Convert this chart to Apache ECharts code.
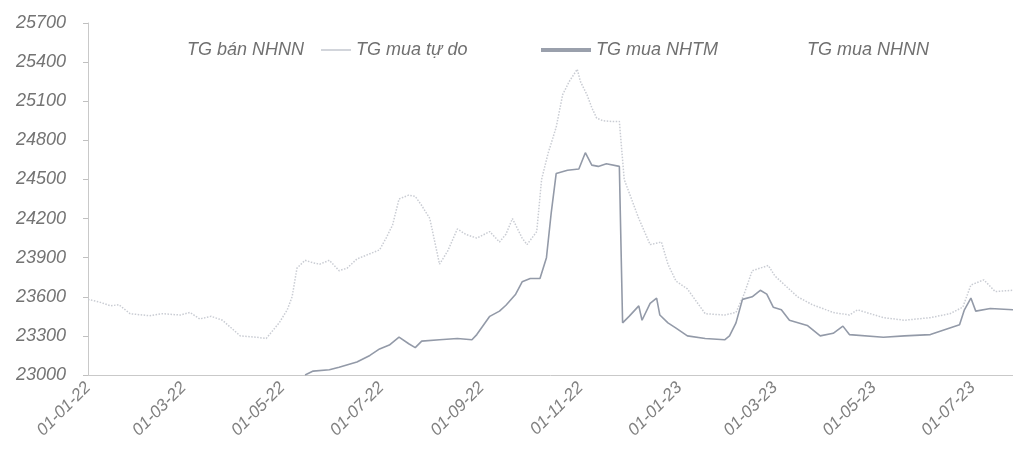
<!DOCTYPE html>
<html>
<head>
<meta charset="utf-8">
<script src="https://cdn.jsdelivr.net/npm/echarts@6/dist/echarts.min.js"></script>
<style>
html,body{margin:0;padding:0;background:#fff;}
#chart{width:1013px;height:471px;}
</style>
</head>
<body>
<div id="chart"></div>
<script>
// ---- Data ----
const seriesNames = ['TG bán NHNN', 'TG mua tự do', 'TG mua NHTM', 'TG mua NHNN'];

const yTicks = [23000, 23300, 23600, 23900, 24200, 24500, 24800, 25100, 25400, 25700];

const xTickDates = ['2022-01-01','2022-03-01','2022-05-01','2022-07-01','2022-09-01',
                    '2022-11-01','2023-01-01','2023-03-01','2023-05-01','2023-07-01'];

const xStart = '2022-01-01';
const xEnd = '2023-07-26';

// TG mua tự do (free market buying rate)
const freeMarket = [
  ['2022-01-01',23580],['2022-01-08',23560],['2022-01-15',23530],['2022-01-20',23540],
  ['2022-01-27',23470],['2022-02-08',23455],['2022-02-16',23470],['2022-02-27',23460],
  ['2022-03-05',23480],['2022-03-11',23430],['2022-03-18',23450],['2022-03-25',23420],
  ['2022-04-05',23300],['2022-04-15',23290],['2022-04-21',23280],['2022-04-29',23400],
  ['2022-05-04',23500],['2022-05-07',23600],['2022-05-10',23820],['2022-05-15',23880],
  ['2022-05-20',23860],['2022-05-24',23850],['2022-05-30',23880],['2022-06-05',23800],
  ['2022-06-10',23820],['2022-06-16',23890],['2022-06-24',23930],['2022-06-30',23960],
  ['2022-07-04',24050],['2022-07-08',24150],['2022-07-12',24350],['2022-07-18',24380],
  ['2022-07-22',24370],['2022-07-26',24300],['2022-07-31',24200],['2022-08-06',23850],
  ['2022-08-11',23950],['2022-08-17',24120],['2022-08-22',24080],['2022-08-29',24050],
  ['2022-09-06',24100],['2022-09-12',24020],['2022-09-16',24080],['2022-09-20',24200],
  ['2022-09-26',24050],['2022-09-29',24000],['2022-10-05',24100],['2022-10-08',24500],
  ['2022-10-12',24700],['2022-10-17',24900],['2022-10-21',25150],['2022-10-25',25250],
  ['2022-10-30',25345],['2022-11-01',25250],['2022-11-05',25150],['2022-11-08',25050],
  ['2022-11-11',24970],['2022-11-15',24950],['2022-11-20',24945],['2022-11-25',24945],
  ['2022-11-28',24500],['2022-12-01',24400],['2022-12-07',24200],['2022-12-14',24000],
  ['2022-12-21',24020],['2022-12-25',23850],['2022-12-30',23720],['2023-01-06',23660],
  ['2023-01-17',23470],['2023-01-29',23460],['2023-02-05',23480],['2023-02-10',23620],
  ['2023-02-15',23800],['2023-02-20',23820],['2023-02-25',23840],['2023-03-01',23760],
  ['2023-03-08',23680],['2023-03-15',23600],['2023-03-24',23540],['2023-04-06',23480],
  ['2023-04-16',23460],['2023-04-21',23500],['2023-05-07',23440],['2023-05-20',23420],
  ['2023-06-05',23440],['2023-06-17',23470],['2023-06-25',23520],['2023-06-30',23690],
  ['2023-07-08',23730],['2023-07-15',23640],['2023-07-26',23650]
];

// TG mua NHTM (commercial bank buying rate)
const bankBuy = [
  ['2022-05-15',23000],['2022-05-20',23030],['2022-05-30',23040],['2022-06-05',23060],
  ['2022-06-16',23100],['2022-06-24',23150],['2022-06-30',23200],['2022-07-06',23230],
  ['2022-07-12',23290],['2022-07-18',23240],['2022-07-22',23210],['2022-07-26',23260],
  ['2022-08-06',23270],['2022-08-17',23280],['2022-08-26',23270],['2022-08-29',23310],
  ['2022-09-06',23450],['2022-09-12',23490],['2022-09-16',23535],['2022-09-22',23620],
  ['2022-09-26',23715],['2022-10-01',23740],['2022-10-07',23740],['2022-10-11',23900],
  ['2022-10-14',24250],['2022-10-17',24545],['2022-10-24',24570],['2022-10-31',24580],
  ['2022-11-04',24705],['2022-11-08',24610],['2022-11-12',24600],['2022-11-17',24620],
  ['2022-11-25',24600],['2022-11-27',23400],['2022-12-01',23450],['2022-12-07',23530],
  ['2022-12-09',23420],['2022-12-14',23550],['2022-12-18',23590],['2022-12-20',23460],
  ['2022-12-25',23400],['2022-12-30',23360],['2023-01-06',23300],['2023-01-17',23280],
  ['2023-01-29',23270],['2023-02-01',23300],['2023-02-05',23400],['2023-02-09',23580],
  ['2023-02-15',23600],['2023-02-20',23650],['2023-02-24',23620],['2023-02-28',23520],
  ['2023-03-05',23500],['2023-03-10',23420],['2023-03-21',23380],['2023-03-29',23300],
  ['2023-04-06',23320],['2023-04-12',23375],['2023-04-16',23310],['2023-05-07',23290],
  ['2023-05-20',23300],['2023-06-05',23310],['2023-06-17',23360],['2023-06-23',23385],
  ['2023-06-26',23500],['2023-06-30',23590],['2023-07-03',23490],['2023-07-12',23510],
  ['2023-07-26',23500]
];

// SBV series: not legible in the faded reference (only legend entries remain)
const sbvSell = [];
const sbvBuy = [];

// ---- Chart ----
const toMs = s => new Date(s + 'T00:00:00').getTime();
const toPoints = arr => arr.map(p => [toMs(p[0]), p[1]]);
const pad = n => (n < 10 ? '0' : '') + n;
const fmtDate = v => { const d = new Date(v); return pad(d.getDate()) + '-' + pad(d.getMonth() + 1) + '-' + String(d.getFullYear()).slice(2); };

const FONT = "'Liberation Sans', Arial, sans-serif";
const TXT = { fontFamily: FONT, fontStyle: 'italic', fontSize: 18, color: '#707070' };

const COLORS = ['#ffffff', '#d2d5db', '#9aa0ac', '#ffffff'];
const LEG_H = [2, 2, 4, 2];
const LEG_W = [50, 30, 50, 50];
const LEG_OP = [0, 1, 1, 0];

const chart = echarts.init(document.getElementById('chart'), null, { renderer: 'canvas' });

function legendAt(i, left) {
  return {
    data: [{ name: seriesNames[i], icon: 'rect',
             itemStyle: { color: COLORS[i], opacity: LEG_OP[i] } }],
    left: left, top: 36, itemWidth: LEG_W[i], itemHeight: LEG_H[i], itemGap: 0,
    textStyle: TXT, selectedMode: false
  };
}

chart.setOption({
  animation: false,
  backgroundColor: '#ffffff',
  legend: [
    legendAt(0, 127),
    legendAt(1, 316),
    legendAt(2, 536),
    legendAt(3, 747)
  ],
  grid: { left: 88, right: 0, top: 23, bottom: 96, containLabel: false },
  xAxis: {
    type: 'value',
    min: toMs(xStart),
    max: toMs(xEnd),
    axisLine: { show: true, lineStyle: { color: '#c9c9c9', width: 1 } },
    axisTick: { show: false },
    splitLine: { show: false },
    axisLabel: {
      customValues: xTickDates.map(toMs),
      formatter: v => fmtDate(v),
      rotate: 45, margin: 10,
      fontFamily: FONT, fontStyle: 'italic', fontSize: 17, color: '#808080'
    }
  },
  yAxis: {
    type: 'value',
    min: yTicks[0],
    max: yTicks[yTicks.length - 1],
    axisLine: { show: true, lineStyle: { color: '#c9c9c9', width: 1 } },
    axisTick: { show: true, length: 5, lineStyle: { color: '#c0c0c0' }, customValues: yTicks },
    splitLine: { show: false },
    axisLabel: {
      customValues: yTicks,
      formatter: v => String(v),
      margin: 22,
      fontFamily: FONT, fontStyle: 'italic', fontSize: 18, color: '#747474'
    }
  },
  series: [
    { name: seriesNames[0], type: 'line', data: toPoints(sbvSell), symbol: 'none',
      lineStyle: { color: COLORS[0], width: 1, opacity: 0 }, itemStyle: { color: COLORS[0] } },
    { name: seriesNames[1], type: 'line', data: toPoints(freeMarket), symbol: 'none',
      lineStyle: { color: '#c9ccd3', width: 1.5, type: 'dotted' }, itemStyle: { color: COLORS[1] } },
    { name: seriesNames[2], type: 'line', data: toPoints(bankBuy), symbol: 'none',
      lineStyle: { color: '#939aa8', width: 1.6 }, itemStyle: { color: COLORS[2] } },
    { name: seriesNames[3], type: 'line', data: toPoints(sbvBuy), symbol: 'none',
      lineStyle: { color: COLORS[3], width: 1, opacity: 0 }, itemStyle: { color: COLORS[3] } }
  ]
});
</script>
</body>
</html>
